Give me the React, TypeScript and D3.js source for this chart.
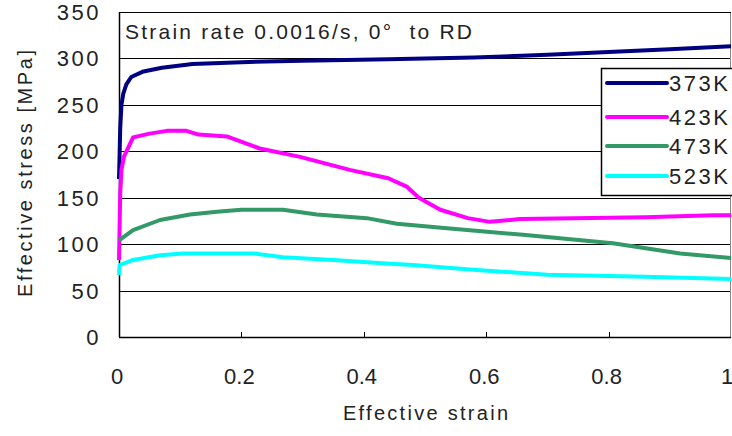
import React, { useEffect, useRef } from "react";
import * as d3 from "d3";

// strain values and stress readings for each temperature
const strain373 = [0, 0.002, 0.004, 0.007, 0.012, 0.02, 0.04, 0.07, 0.12, 0.2, 0.3, 0.44, 0.58, 0.7, 0.8, 0.9, 1.0];
const stress373 = [170, 225, 250, 262, 272, 280, 286, 290, 294, 296, 297.5, 299, 301, 304, 307, 310, 313];

const strain423 = [0, 0.002, 0.004, 0.008, 0.023, 0.05, 0.078, 0.11, 0.13, 0.176, 0.23, 0.296, 0.377, 0.44, 0.47, 0.49, 0.525, 0.57, 0.606, 0.655, 0.86, 0.97, 1.0];
const stress423 = [83, 155, 180, 194, 215, 219, 222, 222, 218, 216, 203, 194, 180, 171, 162, 150, 137, 128, 124, 127, 129, 131, 131];

const strain473 = [0, 0.023, 0.067, 0.116, 0.16, 0.2, 0.268, 0.323, 0.405, 0.454, 0.536, 0.66, 0.807, 0.917, 1.0];
const stress473 = [104, 115, 126, 132, 135, 137, 137, 132, 128, 122, 117, 110, 101, 90, 85];

const strain523 = [0, 0.001, 0.023, 0.067, 0.105, 0.22, 0.268, 0.35, 0.43, 0.48, 0.59, 0.7, 0.86, 1.0];
const stress523 = [67, 77.5, 83, 88, 90, 90, 86, 83, 79.5, 77.5, 72, 67, 65, 62.5];

const seriesNames = ["373K", "423K", "473K", "523K"];
const seriesColors = ["#000080", "#ff00ff", "#339966", "#00ffff"];
const xTicks = [0, 0.2, 0.4, 0.6, 0.8, 1];
const yTicks = [0, 50, 100, 150, 200, 250, 300, 350];

const font = "'Liberation Sans', Arial, sans-serif";
const textColor = "#222";

const drawChart = (el: SVGSVGElement) => {
  const svg = d3.select(el);
  svg.selectAll("*").remove();

  const x = d3.scaleLinear().domain([0, 1]).range([119, 731]);
  const y = d3.scaleLinear().domain([0, 350]).range([337, 12]);

  const series = [
    { name: seriesNames[0], xs: strain373, ys: stress373 },
    { name: seriesNames[1], xs: strain423, ys: stress423 },
    { name: seriesNames[2], xs: strain473, ys: stress473 },
    { name: seriesNames[3], xs: strain523, ys: stress523 },
  ];

  // gridlines
  svg
    .append("g")
    .selectAll("line")
    .data(yTicks.filter(t => t > 0 && t < 350))
    .enter()
    .append("line")
    .attr("x1", x(0))
    .attr("x2", x(1))
    .attr("y1", d => Math.round(y(d)) + 0.5)
    .attr("y2", d => Math.round(y(d)) + 0.5)
    .attr("stroke", "#000")
    .attr("stroke-width", 1);

  // plot frame
  svg
    .append("rect")
    .attr("x", x(0) + 0.5)
    .attr("y", Math.round(y(350)) + 0.5)
    .attr("width", x(1) - x(0) - 1)
    .attr("height", y(0) - y(350))
    .attr("fill", "none")
    .attr("stroke", "#888")
    .attr("stroke-width", 1);

  svg
    .append("line")
    .attr("x1", x(0) + 0.5)
    .attr("x2", x(0) + 0.5)
    .attr("y1", y(350))
    .attr("y2", y(0))
    .attr("stroke", "#000")
    .attr("stroke-width", 1.5);
  svg
    .append("line")
    .attr("x1", x(0))
    .attr("x2", x(1))
    .attr("y1", Math.round(y(0)) + 0.5)
    .attr("y2", Math.round(y(0)) + 0.5)
    .attr("stroke", "#000")
    .attr("stroke-width", 1.5);
  svg
    .append("line")
    .attr("x1", x(0))
    .attr("x2", x(1))
    .attr("y1", Math.round(y(350)) + 0.5)
    .attr("y2", Math.round(y(350)) + 0.5)
    .attr("stroke", "#000")
    .attr("stroke-width", 1);

  // x ticks
  svg
    .append("g")
    .selectAll("line")
    .data(xTicks.slice(1, -1))
    .enter()
    .append("line")
    .attr("x1", d => Math.round(x(d)) + 0.5)
    .attr("x2", d => Math.round(x(d)) + 0.5)
    .attr("y1", y(0))
    .attr("y2", y(0) - 5)
    .attr("stroke", "#000");

  // tick labels
  svg
    .append("g")
    .selectAll("text")
    .data(xTicks)
    .enter()
    .append("text")
    .attr("x", d => (d === 1 ? x(d) - 4 : x(d) - 2))
    .attr("y", 384)
    .attr("text-anchor", "middle")
    .attr("font-family", font)
    .attr("font-size", 22)
    .attr("fill", textColor)
    .text(d => (d === 0 || d === 1 ? String(d) : d.toFixed(1)));

  svg
    .append("g")
    .selectAll("text")
    .data(yTicks)
    .enter()
    .append("text")
    .attr("x", 101)
    .attr("y", d => y(d) + 8)
    .attr("text-anchor", "end")
    .attr("font-family", font)
    .attr("font-size", 22)
    .attr("letter-spacing", 2.5)
    .attr("fill", textColor)
    .text(d => String(d));

  // axis titles
  svg
    .append("text")
    .attr("x", 343)
    .attr("y", 420)
    .attr("font-family", font)
    .attr("font-size", 20)
    .attr("textLength", 165)
    .attr("lengthAdjust", "spacing")
    .attr("fill", textColor)
    .text("Effective strain");

  svg
    .append("text")
    .attr("transform", "translate(32, 297) rotate(-90)")
    .attr("font-family", font)
    .attr("font-size", 20)
    .attr("textLength", 247)
    .attr("lengthAdjust", "spacing")
    .attr("fill", textColor)
    .text("Effective stress [MPa]");

  // annotation
  svg
    .append("text")
    .attr("x", 125)
    .attr("y", 39)
    .attr("font-family", font)
    .attr("font-size", 21)
    .attr("textLength", 347)
    .attr("lengthAdjust", "spacing")
    .attr("fill", textColor)
    .style("white-space", "pre")
    .text("Strain rate 0.0016/s, 0°  to RD");

  // curves
  const line = d3
    .line<[number, number]>()
    .x(d => x(d[0]))
    .y(d => y(d[1]));

  svg
    .append("g")
    .selectAll("path")
    .data(series)
    .enter()
    .append("path")
    .attr("d", s => line(s.xs.map((v, i) => [v, s.ys[i]] as [number, number])))
    .attr("fill", "none")
    .attr("stroke", (_, i) => seriesColors[i])
    .attr("stroke-width", 4)
    .attr("stroke-linejoin", "round");

  // legend
  const legend = svg.append("g");
  legend
    .append("rect")
    .attr("x", 601.5)
    .attr("y", 68.5)
    .attr("width", 140)
    .attr("height", 127)
    .attr("fill", "#fff")
    .attr("stroke", "#000")
    .attr("stroke-width", 1.5);

  const legendY = [83, 117, 146, 176];
  const items = legend
    .selectAll("g.item")
    .data(seriesNames)
    .enter()
    .append("g")
    .attr("class", "item")
    .attr("transform", (_, i) => `translate(0, ${legendY[i]})`);

  items
    .append("line")
    .attr("x1", 607)
    .attr("x2", 667)
    .attr("stroke", (_, i) => seriesColors[i])
    .attr("stroke-width", 4)
    .attr("stroke-linecap", "round");

  items
    .append("text")
    .attr("x", 669)
    .attr("y", 8)
    .attr("font-family", font)
    .attr("font-size", 22)
    .attr("letter-spacing", 2.5)
    .attr("fill", textColor)
    .text(d => d);
};

function App() {
  const ref = useRef<SVGSVGElement>(null);

  useEffect(() => {
    if (ref.current) drawChart(ref.current);
  }, []);

  return (
    <svg
      ref={ref}
      width={732}
      height={436}
      style={{ position: "absolute", left: 0, top: 0, background: "#fff" }}
    />
  );
}

export default App;
